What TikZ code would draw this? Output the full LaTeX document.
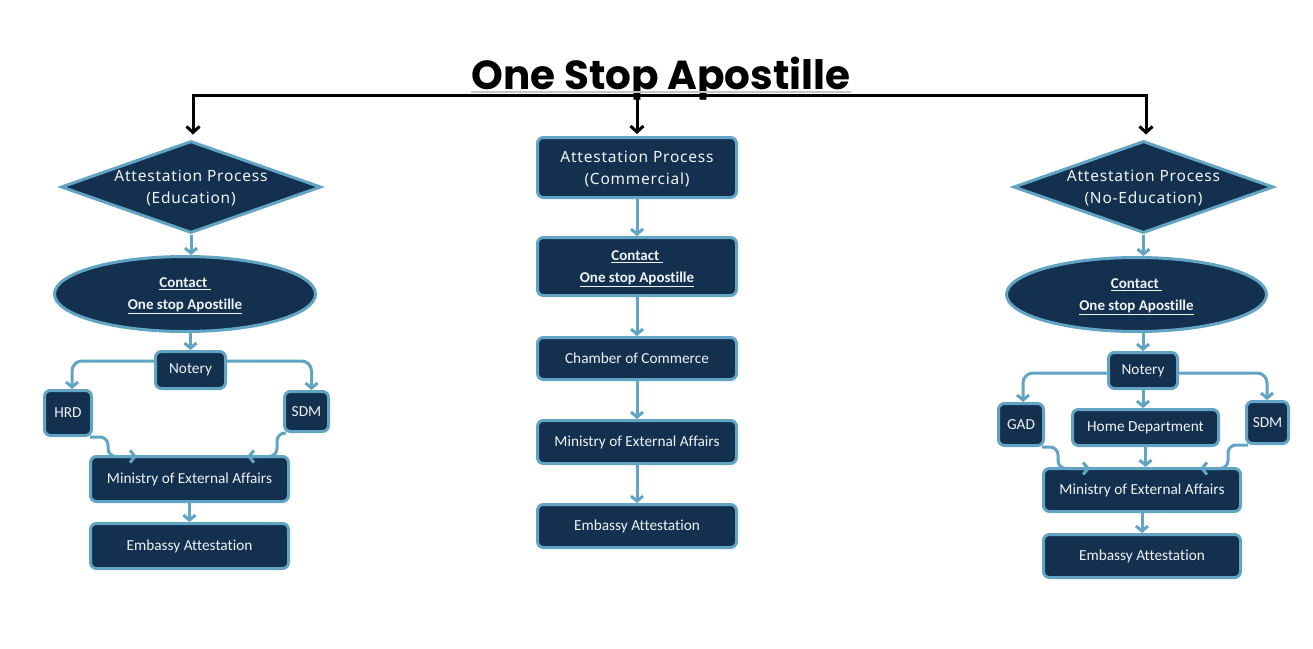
\documentclass[tikz,border=0pt]{standalone}
\usepackage{fontspec}
\setmainfont{Carlito}[Ligatures=NoCommon]
\newfontfamily\titlefont{Poppins}
\newfontfamily\diafont{Noto Sans}[LetterSpace=5]
\usetikzlibrary{shapes.geometric,arrows.meta,calc}
\definecolor{navy}{HTML}{13304F}
\definecolor{bordc}{HTML}{62A4C3}
\definecolor{txtc}{HTML}{F0F3F6}
\tikzset{
  base/.style={draw=bordc, fill=navy, line width=3pt, text=txtc, inner sep=0pt, align=center},
  box/.style={base, rounded corners=6pt, font=\fontsize{15.3}{20}\selectfont},
  bigbox/.style={base, rounded corners=6pt, text depth=0pt, font=\diafont\fontsize{15.5}{22}\selectfont},
  contactbox/.style={base, rounded corners=6pt, text depth=0pt, font=\bfseries\fontsize{15}{22}\selectfont},
  dia/.style={base, diamond, aspect=2.8, text depth=0pt, minimum width=260pt, minimum height=92pt, font=\diafont\fontsize{15.5}{22}\selectfont},
  ell/.style={base, ellipse, text depth=0pt, font=\bfseries\fontsize{15}{22}\selectfont},
  conn/.style={draw=bordc, line width=3pt, -{Straight Barb[length=5pt,width=12pt]}},
  blk/.style={draw=black, line width=3pt, -{Straight Barb[length=6pt,width=13pt]}},
  bus/.style={draw=black, line width=3pt}
}
\begin{document}
\begin{tikzpicture}[x=1pt,y=-1pt]
\useasboundingbox[fill=white] (0,0) rectangle (1313,648);

% title and bus
\node[anchor=base, font=\titlefont\bfseries\fontsize{40.5}{44}\selectfont, inner sep=0pt] (title) at (661,89) {One Stop Apostille};
\draw[gray!45, line width=1.2pt] ($(title.base west)+(0,3)$) -- ($(title.base east)+(0,3)$);
\coordinate (busL) at (193,95);
\coordinate (busC) at (637,95);
\coordinate (busR) at (1146,95);
\draw[bus] ($(busL)+(-1.5,0)$) -- ($(busR)+(1.5,0)$);

% left column
\node[dia] (d1) at (191,187) {Attestation Process\\(Education)};
\node[ell, minimum width=261pt, minimum height=75pt] (e1) at (185,294) {\underline{Contact\ }\\\underline{One stop Apostille}};
\node[box, minimum width=70pt, minimum height=37pt] (n1) at (190.5,370) {Notery};
\node[box, minimum width=47pt, minimum height=45pt] (hrd) at (68,413) {HRD};
\node[box, minimum width=44pt, minimum height=40pt] (sdm1) at (306.5,411.5) {SDM};
\node[box, minimum width=198pt, minimum height=45pt] (mea1) at (189.5,479) {Ministry of External Affairs};
\node[box, minimum width=198pt, minimum height=45pt] (emb1) at (189.5,546) {Embassy Attestation};

% center column
\node[bigbox, minimum width=199pt, minimum height=60pt] (c1) at (637,167.5) {Attestation Process\\(Commercial)};
\node[contactbox, minimum width=199pt, minimum height=58pt] (c2) at (637,266.5) {\underline{Contact\ }\\\underline{One stop Apostille}};
\node[box, minimum width=199pt, minimum height=42pt] (c3) at (637,358.5) {Chamber of Commerce};
\node[box, minimum width=199pt, minimum height=43pt] (c4) at (637,442) {Ministry of External Affairs};
\node[box, minimum width=199pt, minimum height=43pt] (c5) at (637,526) {Embassy Attestation};

% right column
\node[dia] (d2) at (1143.5,187) {Attestation Process\\(No-Education)};
\node[ell, minimum width=260pt, minimum height=74pt] (e2) at (1136.5,294.5) {\underline{Contact\ }\\\underline{One stop Apostille}};
\node[box, minimum width=69pt, minimum height=36pt] (n2) at (1143,370.5) {Notery};
\node[box, minimum width=45pt, minimum height=42pt] (gad) at (1021,424.5) {GAD};
\node[box, minimum width=146pt, minimum height=36pt] (home) at (1145.5,427.5) {Home Department};
\node[box, minimum width=42pt, minimum height=42pt] (sdm2) at (1267.5,422.5) {SDM};
\node[box, minimum width=197pt, minimum height=43pt] (mea2) at (1142,490) {Ministry of External Affairs};
\node[box, minimum width=197pt, minimum height=43pt] (emb2) at (1142,556) {Embassy Attestation};

% black drops
\draw[blk, shorten >=5pt] (busL) -- (busL |- d1.north);
\draw[blk, shorten >=2pt] (busC) -- (busC |- c1.north);
\draw[blk, shorten >=5pt] (busR) -- (busR |- d2.north);

% left connectors
\draw[conn] (d1.south) -- (d1.south |- e1.north);
\draw[conn] (n1.north |- e1.south) -- (n1.north);
\draw[conn, rounded corners=10pt] ($(n1.west)+(0,-9)$) -| ($(hrd.north)+(4,0)$);
\draw[conn, rounded corners=10pt] ($(n1.east)+(0,-9)$) -| ($(sdm1.north)+(5,0)$);
\draw[conn, rounded corners=8pt] ($(hrd.south east)+(-3,0)$) -| ($(mea1.north west)+(19,1.5)$) -- ($(mea1.north west)+(48,1.5)$);
\draw[conn, rounded corners=8pt] ($(sdm1.south west)+(3,0)$) -| ($(mea1.north east)+(-13,1.5)$) -- ($(mea1.north east)+(-43,1.5)$);
\draw[conn] (mea1.south) -- (emb1.north);

% center connectors
\draw[conn] (c1.south) -- (c2.north);
\draw[conn] (c2.south) -- (c3.north);
\draw[conn] (c3.south) -- (c4.north);
\draw[conn] (c4.south) -- (c5.north);

% right connectors
\draw[conn] (d2.south) -- (d2.south |- e2.north);
\draw[conn] (n2.north |- e2.south) -- (n2.north);
\draw[conn, rounded corners=10pt] ($(n2.west)+(0,2.5)$) -| ($(gad.north)+(2,0)$);
\draw[conn, rounded corners=10pt] ($(n2.east)+(0,2.5)$) -| ($(sdm2.north)+(-0.5,0)$);
\draw[conn] (n2.south) -- (n2.south |- home.north);
\draw[conn] (home.south) -- (home.south |- mea2.north);
\draw[conn, rounded corners=8pt] ($(gad.south east)+(-3,0)$) -| ($(mea2.north west)+(16,1.5)$) -- ($(mea2.north west)+(48,1.5)$);
\draw[conn, rounded corners=8pt] ($(sdm2.south west)+(3,0)$) -| ($(mea2.north east)+(-14,1.5)$) -- ($(mea2.north east)+(-42,1.5)$);
\draw[conn] (mea2.south) -- (emb2.north);
\end{tikzpicture}
\end{document}
